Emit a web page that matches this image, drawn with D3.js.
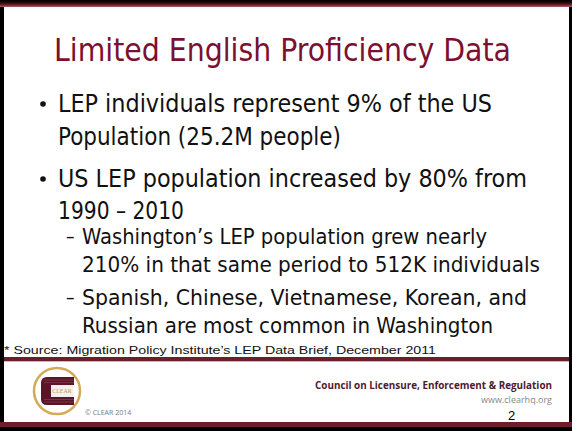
<!DOCTYPE html>
<html>
<head>
<meta charset="utf-8">
<script src="https://cdn.jsdelivr.net/npm/d3@7"></script>
<style>
  html, body { margin: 0; padding: 0; background: #000; }
  svg { display: block; }
</style>
</head>
<body>
<svg id="slide" width="572" height="431"></svg>
<script>
// ---- content ----
const titleText = "Limited English Proficiency Data";
const bulletLines = [
  ["LEP individuals represent 9% of the US", "Population (25.2M people)"],
  ["US LEP population increased by 80% from", "1990 \u2013 2010"]
];
const subBulletLines = [
  ["Washington\u2019s LEP population grew nearly", "210% in that same period to 512K individuals"],
  ["Spanish, Chinese, Vietnamese, Korean, and", "Russian are most common in Washington"]
];
const sourceNote = "* Source: Migration Policy Institute\u2019s LEP Data Brief, December 2011";
const footerOrg = "Council on Licensure, Enforcement & Regulation";
const footerUrl = "www.clearhq.org";
const footerCopy = "\u00a9 CLEAR 2014";
const logoText = "CLEAR";
const pageNumber = "2";

// ---- layout ----
const W = 572, H = 431;
const svg = d3.select("#slide");
const defs = svg.append("defs");

const topGrad = defs.append("linearGradient").attr("id", "topGrad")
  .attr("x1", 0).attr("y1", 0).attr("x2", 0).attr("y2", 1);
[["0", "#000000"], ["0.35", "#2a0509"], ["0.65", "#6a1824"], ["1", "#a4606c"]]
  .forEach(([o, c]) => topGrad.append("stop").attr("offset", o).attr("stop-color", c));

// frame
svg.append("rect").attr("x", 0).attr("y", 0).attr("width", W).attr("height", H).attr("fill", "#000");
svg.append("rect").attr("x", 4).attr("y", 0).attr("width", W - 7).attr("height", 427).attr("fill", "#ffffff");
svg.append("rect").attr("x", 0).attr("y", 0).attr("width", W).attr("height", 7).attr("fill", "url(#topGrad)");
svg.append("rect").attr("x", 4).attr("y", 357).attr("width", W - 7).attr("height", 4).attr("fill", "#6b1f2b");
svg.append("rect").attr("x", 4).attr("y", 361).attr("width", W - 7).attr("height", 1).attr("fill", "#c9b9bb");
svg.append("rect").attr("x", 0).attr("y", 422).attr("width", W).attr("height", 5).attr("fill", "#6b1f2b");

function fit(sel, w) {
  if (w) sel.attr("textLength", w).attr("lengthAdjust", "spacingAndGlyphs");
  return sel;
}

const bodyFont = "'DejaVu Sans Condensed', 'DejaVu Sans', sans-serif";

// title
fit(svg.append("text")
  .attr("x", 54).attr("y", 61)
  .attr("font-family", bodyFont).attr("font-size", 32)
  .attr("fill", "#7b1030")
  .text(titleText), 457);

// main bullets
const mainX = 58, mainDotX = 43;
const mainBase = [[112, 145], [187, 219]];
const mainW = [[434, 283], [469, 126]];
bulletLines.forEach((lines, i) => {
  svg.append("circle").attr("cx", mainDotX).attr("cy", mainBase[i][0] - 8).attr("r", 2.8).attr("fill", "#111");
  lines.forEach((t, j) => {
    fit(svg.append("text").attr("x", mainX).attr("y", mainBase[i][j])
      .attr("font-family", bodyFont).attr("font-size", 24.5).attr("fill", "#111").text(t), mainW[i][j]);
  });
});

// sub bullets
const subX = 82, subDashX = 66;
const subBase = [[244, 272], [305, 333]];
const subW = [[405, 458], [445, 411]];
subBulletLines.forEach((lines, i) => {
  svg.append("text").attr("x", subDashX).attr("y", subBase[i][0] - 1)
    .attr("font-family", bodyFont).attr("font-size", 19).attr("fill", "#111").text("\u2013");
  lines.forEach((t, j) => {
    fit(svg.append("text").attr("x", subX).attr("y", subBase[i][j])
      .attr("font-family", bodyFont).attr("font-size", 21.5).attr("fill", "#111").text(t), subW[i][j]);
  });
});

// source
fit(svg.append("text").attr("x", 4).attr("y", 354)
  .attr("font-family", "'Liberation Sans', Arial, sans-serif").attr("font-size", 11.5).attr("fill", "#111")
  .text(sourceNote), 432);

// logo
const logo = svg.append("g").attr("transform", "translate(57,391)");
logo.append("circle").attr("r", 23).attr("fill", "#fff").attr("stroke", "#d4aa58").attr("stroke-width", 2.5);
logo.append("path")
  .attr("d", "M-10,-14 H17 V-6 H-6 V6 H17 V14 H-10 Q-16,14 -16,8 V-8 Q-16,-14 -10,-14 Z")
  .attr("fill", "#5a1526");
[-11, -8.5, 8.5, 11].forEach(y => logo.append("line")
  .attr("x1", -13).attr("x2", 17).attr("y1", y).attr("y2", y)
  .attr("stroke", "#8a4a58").attr("stroke-width", 0.6));
logo.append("rect").attr("x", -6).attr("y", -6).attr("width", 22).attr("height", 12).attr("fill", "#f4eeee");
logo.append("text").attr("x", 5).attr("y", 2.2).attr("text-anchor", "middle")
  .attr("font-family", "'Liberation Serif', serif").attr("font-size", 6).attr("fill", "#c49a4c")
  .text(logoText);

svg.append("text").attr("x", 85).attr("y", 415)
  .attr("font-family", "'Open Sans', sans-serif").attr("font-size", 7).attr("fill", "#777")
  .text(footerCopy);

fit(svg.append("text").attr("x", 315).attr("y", 389)
  .attr("font-family", "'Open Sans', sans-serif").attr("font-weight", "bold").attr("font-size", 10.5)
  .attr("fill", "#4e1a30").text(footerOrg), 237);

svg.append("text").attr("x", 552).attr("y", 403).attr("text-anchor", "end")
  .attr("font-family", "'Open Sans', sans-serif").attr("font-size", 9).attr("fill", "#888")
  .text(footerUrl);

svg.append("text").attr("x", 508).attr("y", 420)
  .attr("font-family", "'Liberation Sans', Arial, sans-serif").attr("font-size", 13).attr("fill", "#000")
  .text(pageNumber);
</script>
</body>
</html>
